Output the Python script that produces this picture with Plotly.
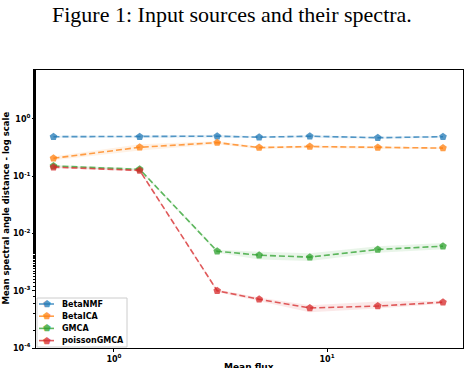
import plotly.graph_objects as go

# mean flux levels (x) and mean spectral angle distance per method
mean_flux = [0.52, 1.32, 3.05, 4.8, 8.3, 17.3, 35]

methods = ['BetaNMF', 'BetaICA', 'GMCA', 'poissonGMCA']
colors = ['#1f77b4', '#ff7f0e', '#2ca02c', '#d62728']

betanmf = [0.49, 0.49, 0.50, 0.48, 0.50, 0.47, 0.49]
betanmf_lo = [0.47, 0.47, 0.46, 0.46, 0.47, 0.45, 0.47]
betanmf_hi = [0.51, 0.51, 0.53, 0.50, 0.52, 0.49, 0.51]

betaica = [0.206, 0.32, 0.386, 0.316, 0.33, 0.316, 0.31]
betaica_lo = [0.19, 0.28, 0.36, 0.30, 0.31, 0.30, 0.30]
betaica_hi = [0.22, 0.36, 0.41, 0.33, 0.345, 0.33, 0.32]

gmca = [0.151, 0.132, 0.0049, 0.00418, 0.00386, 0.00525, 0.006]
gmca_lo = [0.145, 0.126, 0.0046, 0.0035, 0.0033, 0.0046, 0.0053]
gmca_hi = [0.157, 0.138, 0.0052, 0.0048, 0.0045, 0.0060, 0.0068]

poisson = [0.144, 0.126, 0.0010, 0.00071, 0.00050, 0.00054, 0.00063]
poisson_lo = [0.139, 0.121, 0.00095, 0.00066, 0.00042, 0.00049, 0.00059]
poisson_hi = [0.149, 0.131, 0.00105, 0.00076, 0.00056, 0.00065, 0.00067]

series = [
    (betanmf, betanmf_lo, betanmf_hi),
    (betaica, betaica_lo, betaica_hi),
    (gmca, gmca_lo, gmca_hi),
    (poisson, poisson_lo, poisson_hi),
]

y_tickvals = [1e-4, 1e-3, 1e-2, 1e-1, 1]
y_ticktext = ['10<sup>-4</sup>', '10<sup>-3</sup>', '10<sup>-2</sup>', '10<sup>-1</sup>', '10<sup>0</sup>']
x_tickvals = [1, 10]
x_ticktext = ['10<sup>0</sup>', '10<sup>1</sup>']

W, H = 464, 368
L, R, T, B = 36, 1, 70, 20


def rgba(hexcol, a):
    h = hexcol.lstrip('#')
    r, g, b = int(h[0:2], 16), int(h[2:4], 16), int(h[4:6], 16)
    return f'rgba({r},{g},{b},{a})'


fig = go.Figure()

for name, col, (vals, lo, hi) in zip(methods, colors, series):
    # shaded band
    fig.add_trace(go.Scatter(x=mean_flux, y=hi, mode='lines', line=dict(width=0),
                             showlegend=False, hoverinfo='skip'))
    fig.add_trace(go.Scatter(x=mean_flux, y=lo, mode='lines', line=dict(width=0),
                             fill='tonexty', fillcolor=rgba(col, 0.1),
                             showlegend=False, hoverinfo='skip'))
    fig.add_trace(go.Scatter(
        x=mean_flux, y=vals, name=name, mode='lines+markers', showlegend=False,
        line=dict(color=rgba(col, 0.75), width=1.6, dash='6px,3px'),
        marker=dict(symbol='pentagon', size=8, color=rgba(col, 0.75)),
    ))

# helpers: pixel position -> paper coordinates
pw, ph = W - L - R, H - T - B
def px_x(p):
    return (p - L) / pw
def px_y(p):
    return (H - B - p) / ph

# compact legend box (matplotlib style)
shapes = [dict(type='rect', xref='paper', yref='paper',
               x0=px_x(37), x1=px_x(127), y0=px_y(347), y1=px_y(298),
               line=dict(color='#cccccc', width=1), fillcolor='rgba(255,255,255,0.8)')]
annotations = []
for i, (name, col) in enumerate(zip(methods, colors)):
    yy = 304 + i * 12.2
    shapes.append(dict(type='line', xref='paper', yref='paper',
                       x0=px_x(39), x1=px_x(54), y0=px_y(yy), y1=px_y(yy),
                       line=dict(color=rgba(col, 0.75), width=1.6)))
    annotations.append(dict(text='⬟', xref='paper', yref='paper', x=px_x(46.5), y=px_y(yy),
                            xanchor='center', yanchor='middle', showarrow=False,
                            font=dict(size=9, color=rgba(col, 0.75))))
    annotations.append(dict(text='<b>' + name + '</b>', xref='paper', yref='paper',
                            x=px_x(60), y=px_y(yy), xanchor='left', yanchor='middle',
                            showarrow=False, font=dict(size=8, color='black')))

annotations.append(dict(text='Figure 1: Input sources and their spectra.', x=px_x(232), y=px_y(15),
                        xref='paper', yref='paper', xanchor='center', yanchor='middle',
                        showarrow=False,
                        font=dict(family='Liberation Serif', size=22, color='black')))
annotations.append(dict(text='<b>Mean flux</b>', x=px_x(249), y=px_y(367), xref='paper', yref='paper',
                        xanchor='center', yanchor='middle', showarrow=False,
                        font=dict(size=9, color='black')))
annotations.append(dict(text='<b>Mean spectral angle distance - log scale</b>', x=px_x(5.5), y=px_y(208),
                        xref='paper', yref='paper', xanchor='center', yanchor='middle',
                        textangle=-90, showarrow=False,
                        font=dict(size=8.5, color='black')))

fig.update_layout(
    width=W, height=H,
    margin=dict(l=L, r=R, t=T, b=B),
    paper_bgcolor='white', plot_bgcolor='white',
    font=dict(family='DejaVu Sans', color='black', size=8),
    showlegend=False,
    shapes=shapes,
    annotations=annotations,
)

fig.update_xaxes(
    type='log', range=[-0.366, 1.638], automargin=False,
    tickvals=x_tickvals, ticktext=x_ticktext,
    ticks='outside', ticklen=3, tickcolor='black',
    showline=True, linecolor='black', linewidth=1, mirror=True,
    showgrid=False, zeroline=False,
    tickfont=dict(size=8, weight='bold'),
)
fig.update_yaxes(
    type='log', range=[-4, 0.855], automargin=False,
    tickvals=y_tickvals, ticktext=y_ticktext,
    ticks='outside', ticklen=3, tickcolor='black',
    minor=dict(ticks='outside', ticklen=2, tickcolor='black'),
    showline=True, linecolor='black', linewidth=1, mirror=True,
    showgrid=False, zeroline=False,
    tickfont=dict(size=8, weight='bold'),
)

# drop the browser's default page margin so the figure sits at the window origin
fig.write_html('out.html', config={'displayModeBar': False},
               post_script="document.body.style.margin='0';")
